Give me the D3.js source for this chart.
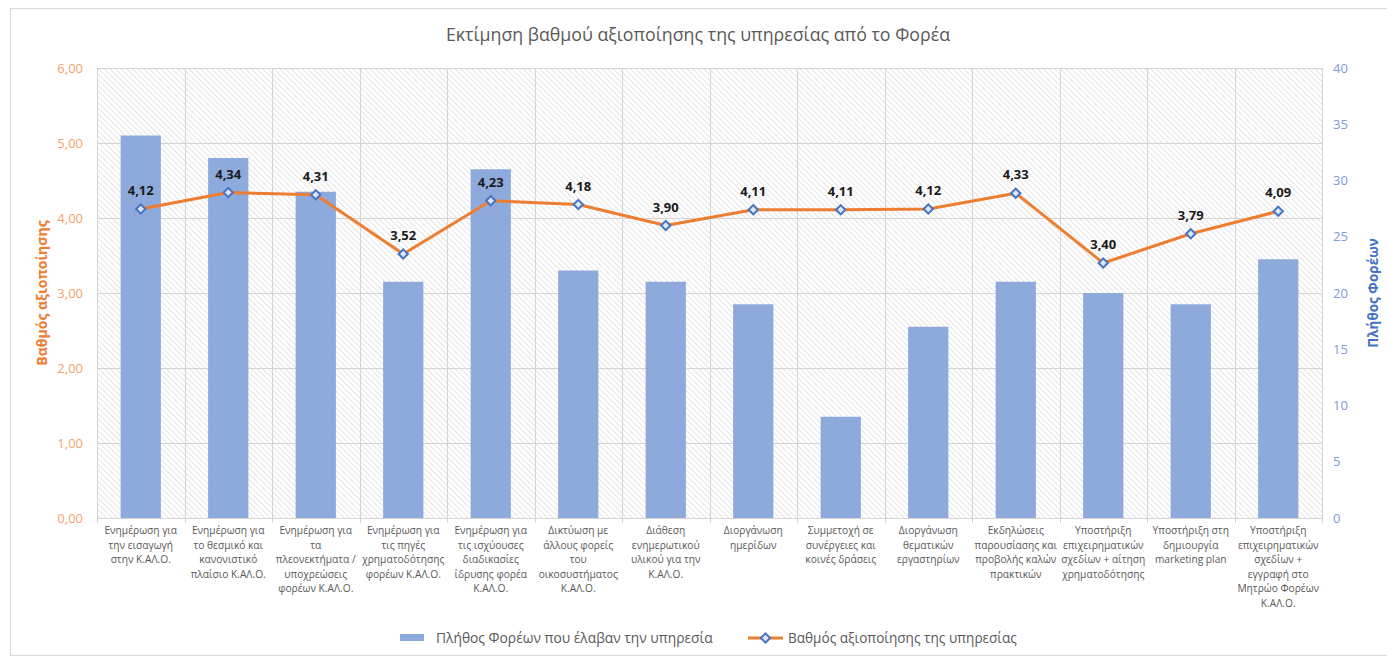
<!DOCTYPE html>
<html>
<head>
<meta charset="utf-8">
<script src="https://cdn.jsdelivr.net/npm/d3@7"></script>
<style>
  body { margin: 0; background: #fff; }
  text { font-family: "Open Sans", "Noto Sans", sans-serif; }
</style>
</head>
<body>
<div class="chart"></div>
<script>
// Combo chart: number of bodies per service (bars) + usage score (line)

var categories = [
    ["Ενημέρωση για", "την εισαγωγή", "στην Κ.ΑΛ.Ο."],
    ["Ενημέρωση για", "το θεσμικό και", "κανονιστικό", "πλαίσιο Κ.ΑΛ.Ο."],
    ["Ενημέρωση για", "τα", "πλεονεκτήματα /", "υποχρεώσεις", "φορέων Κ.ΑΛ.Ο."],
    ["Ενημέρωση για", "τις πηγές", "χρηματοδότησης", "φορέων Κ.ΑΛ.Ο."],
    ["Ενημέρωση για", "τις ισχύουσες", "διαδικασίες", "ίδρυσης φορέα", "Κ.ΑΛ.Ο."],
    ["Δικτύωση με", "άλλους φορείς", "του", "οικοσυστήματος", "Κ.ΑΛ.Ο."],
    ["Διάθεση", "ενημερωτικού", "υλικού για την", "Κ.ΑΛ.Ο."],
    ["Διοργάνωση", "ημερίδων"],
    ["Συμμετοχή σε", "συνέργειες και", "κοινές δράσεις"],
    ["Διοργάνωση", "θεματικών", "εργαστηρίων"],
    ["Εκδηλώσεις", "παρουσίασης και", "προβολής καλών", "πρακτικών"],
    ["Υποστήριξη", "επιχειρηματικών", "σχεδίων + αίτηση", "χρηματοδότησης"],
    ["Υποστήριξη στη", "δημιουργία", "marketing plan"],
    ["Υποστήριξη", "επιχειρηματικών", "σχεδίων +", "εγγραφή στο", "Μητρώο Φορέων", "Κ.ΑΛ.Ο."]
];

// bars: number of bodies that received the service (right axis)
var countValues = [34, 32, 29, 21, 31, 22, 21, 19, 9, 17, 21, 20, 19, 23];

// line: usage score (left axis)
var scoreValues = [4.12, 4.34, 4.31, 3.52, 4.23, 4.18, 3.90, 4.11, 4.11, 4.12, 4.33, 3.40, 3.79, 4.09];

var leftTicks = [0, 1, 2, 3, 4, 5, 6];
var rightTicks = [0, 5, 10, 15, 20, 25, 30, 35, 40];

var titleText = "Εκτίμηση βαθμού αξιοποίησης της υπηρεσίας από το Φορέα";
var leftTitle = "Βαθμός αξιοποίησης";
var rightTitle = "Πλήθος Φορέων";
var barLegend = "Πλήθος Φορέων που έλαβαν την υπηρεσία";
var lineLegend = "Βαθμός αξιοποίησης της υπηρεσίας";

var svgWidth = 1387;
var svgHeight = 659;

var margin = {
    top: 68,
    right: 65,
    bottom: 141,
    left: 97
};

var width = svgWidth - margin.left - margin.right;
var height = svgHeight - margin.top - margin.bottom;

var fmt = d => d.toFixed(2).replace(".", ",");

var svg = d3.select(".chart")
    .append("svg")
    .attr("width", svgWidth)
    .attr("height", svgHeight);

// outer chart border
svg.append("rect")
    .attr("x", 10.5)
    .attr("y", 8.5)
    .attr("width", 1400)
    .attr("height", 647)
    .attr("fill", "#fff")
    .attr("stroke", "#d9d9d9");

// hatch pattern for plot area
var defs = svg.append("defs");
defs.append("pattern")
    .attr("id", "hatch")
    .attr("patternUnits", "userSpaceOnUse")
    .attr("width", 4)
    .attr("height", 4)
    .attr("patternTransform", "rotate(-45)")
    .append("line")
    .attr("x1", 0).attr("y1", 0)
    .attr("x2", 0).attr("y2", 4)
    .attr("stroke", "#d2d2d2")
    .attr("stroke-width", 1.2);

var chartGroup = svg.append("g")
    .attr("transform", `translate(${margin.left}, ${margin.top})`);

// scales
var xBandScale = d3.scaleBand()
    .domain(d3.range(categories.length))
    .range([0, width])
    .paddingInner(0.54)
    .paddingOuter(0.27);

var xCellScale = d3.scaleBand()
    .domain(d3.range(categories.length))
    .range([0, width]);

var yLeftScale = d3.scaleLinear()
    .domain([0, 6])
    .range([height, 0]);

var yRightScale = d3.scaleLinear()
    .domain([0, 40])
    .range([height, 0]);

chartGroup.append("rect")
    .attr("width", width)
    .attr("height", height)
    .attr("fill", "url(#hatch)");

// gridlines
chartGroup.append("g")
    .selectAll("line")
    .data(leftTicks)
    .join("line")
    .attr("x1", 0)
    .attr("x2", width)
    .attr("y1", d => Math.round(yLeftScale(d)) + 0.5)
    .attr("y2", d => Math.round(yLeftScale(d)) + 0.5)
    .attr("stroke", "#d4d4d4");

chartGroup.append("g")
    .selectAll("line")
    .data(d3.range(categories.length + 1))
    .join("line")
    .attr("x1", d => Math.round(d * xCellScale.step()) + 0.5)
    .attr("x2", d => Math.round(d * xCellScale.step()) + 0.5)
    .attr("y1", 0)
    .attr("y2", height + 5)
    .attr("stroke", "#d4d4d4");

// bars
chartGroup.append("g")
    .selectAll("rect")
    .data(countValues)
    .join("rect")
    .attr("x", (d, i) => xBandScale(i))
    .attr("width", xBandScale.bandwidth())
    .attr("y", d => yRightScale(d))
    .attr("height", d => height - yRightScale(d))
    .attr("fill", "#8eaadc");

// line
var lineGen = d3.line()
    .x((d, i) => xCellScale(i) + xCellScale.bandwidth() / 2)
    .y(d => yLeftScale(d));

chartGroup.append("path")
    .datum(scoreValues)
    .attr("d", lineGen)
    .attr("fill", "none")
    .attr("stroke", "#ed7d31")
    .attr("stroke-width", 3)
    .attr("stroke-linejoin", "round");

var diamond = d3.symbol().type(d3.symbolDiamond2).size(55);

chartGroup.append("g")
    .selectAll("path")
    .data(scoreValues)
    .join("path")
    .attr("d", diamond)
    .attr("transform", (d, i) => `translate(${xCellScale(i) + xCellScale.bandwidth() / 2}, ${yLeftScale(d)})`)
    .attr("fill", "#dce6f5")
    .attr("stroke", "#4472c4")
    .attr("stroke-width", 2);

// data labels
chartGroup.append("g")
    .selectAll("text")
    .data(scoreValues)
    .join("text")
    .attr("x", (d, i) => xCellScale(i) + xCellScale.bandwidth() / 2)
    .attr("y", d => yLeftScale(d) - 14)
    .attr("text-anchor", "middle")
    .attr("font-size", "13px")
    .attr("font-weight", "bold")
    .attr("fill", "#1a1a1a")
    .text(d => fmt(d));

// axes
var leftAxis = d3.axisLeft(yLeftScale)
    .tickValues(leftTicks)
    .tickFormat(fmt)
    .tickSize(0)
    .tickPadding(14);

var rightAxis = d3.axisRight(yRightScale)
    .tickValues(rightTicks)
    .tickSize(0)
    .tickPadding(11);

chartGroup.append("g")
    .call(leftAxis)
    .call(g => g.select(".domain").remove())
    .selectAll("text")
    .attr("font-size", "13px")
    .attr("fill", "#f2a46c");

chartGroup.append("g")
    .attr("transform", `translate(${width}, 0)`)
    .call(rightAxis)
    .call(g => g.select(".domain").remove())
    .selectAll("text")
    .attr("font-size", "13px")
    .attr("fill", "#7d9bd4");

// bottom axis line
chartGroup.append("line")
    .attr("x1", 0)
    .attr("x2", width)
    .attr("y1", height + 0.5)
    .attr("y2", height + 0.5)
    .attr("stroke", "#d4d4d4");

// category labels (multi-line)
var catLabels = chartGroup.append("g")
    .selectAll("text")
    .data(categories)
    .join("text")
    .attr("x", (d, i) => xCellScale(i) + xCellScale.bandwidth() / 2)
    .attr("y", height + 16)
    .attr("text-anchor", "middle")
    .attr("font-size", "10.2px")
    .attr("fill", "#595959");

catLabels.selectAll("tspan")
    .data(d => d)
    .join("tspan")
    .attr("x", function() { return this.parentNode.getAttribute("x"); })
    .attr("dy", (d, i) => i === 0 ? 0 : 14.6)
    .text(d => d);

// title
svg.append("text")
    .attr("x", 698)
    .attr("y", 41)
    .attr("text-anchor", "middle")
    .attr("font-size", "17.8px")
    .attr("fill", "#595959")
    .text(titleText);

// axis titles
svg.append("text")
    .attr("transform", `translate(47, ${margin.top + height / 2}) rotate(-90)`)
    .attr("text-anchor", "middle")
    .attr("font-size", "14px")
    .attr("font-weight", "bold")
    .attr("fill", "#ed7d31")
    .text(leftTitle);

svg.append("text")
    .attr("transform", `translate(1378, ${margin.top + height / 2}) rotate(-90)`)
    .attr("text-anchor", "middle")
    .attr("font-size", "13.5px")
    .attr("font-weight", "bold")
    .attr("fill", "#4472c4")
    .text(rightTitle);

// legend
var legend = svg.append("g")
    .attr("transform", "translate(0, 638)");

legend.append("rect")
    .attr("x", 400)
    .attr("y", -4)
    .attr("width", 24)
    .attr("height", 7)
    .attr("fill", "#8eaadc");

legend.append("text")
    .attr("x", 436)
    .attr("y", 5)
    .attr("font-size", "13.8px")
    .attr("fill", "#595959")
    .text(barLegend);

legend.append("line")
    .attr("x1", 748)
    .attr("x2", 783)
    .attr("y1", 0)
    .attr("y2", 0)
    .attr("stroke", "#ed7d31")
    .attr("stroke-width", 3);

legend.append("path")
    .attr("d", diamond)
    .attr("transform", "translate(765.5, 0)")
    .attr("fill", "#dce6f5")
    .attr("stroke", "#4472c4")
    .attr("stroke-width", 2);

legend.append("text")
    .attr("x", 788)
    .attr("y", 5)
    .attr("font-size", "13.6px")
    .attr("fill", "#595959")
    .text(lineLegend);
</script>
</body>
</html>
